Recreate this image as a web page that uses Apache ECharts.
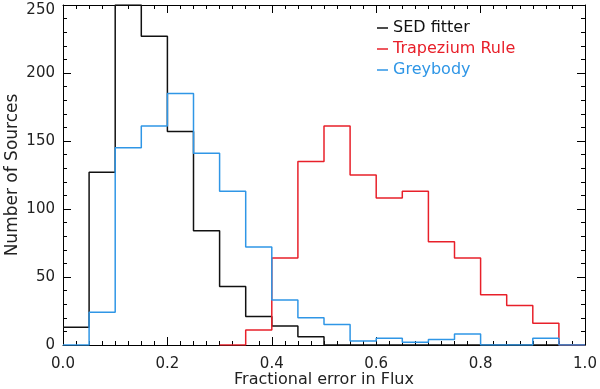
<!DOCTYPE html>
<html>
<head>
<meta charset="utf-8">
<title>Fractional error histogram</title>
<script src="https://cdn.jsdelivr.net/npm/echarts@6/dist/echarts.min.js"></script>
<style>
    html, body { margin: 0; padding: 0; background: #fff; }
    #hist { width: 600px; height: 389px; }
</style>
</head>
<body>
<div id="hist"></div>
<script>
// histogram bins (left edges), width 0.05
var binEdges = [0.00, 0.05, 0.10, 0.15, 0.20, 0.25, 0.30, 0.35, 0.40, 0.45,
                0.50, 0.55, 0.60, 0.65, 0.70, 0.75, 0.80, 0.85, 0.90, 0.95];
var binWidth = 0.05;

// counts per bin, null = not drawn
var sedFitter = [13, 127, 250, 227, 157, 84, 43, 21, 14, 6,
                 0, 0, 0, 0, 0, 0, 0, 0, 0, 0];
var trapezium = [null, null, null, null, null, null, 0, 11, 64, 135,
                 161, 125, 108, 113, 76, 64, 37, 29, 16, 0];
var greybody  = [0, 24, 145, 161, 185, 141, 113, 72, 33, 20,
                 15, 3, 5, 2, 4, 8, 0, 0, 5, 0];

var xTicks = [0.0, 0.2, 0.4, 0.6, 0.8, 1.0];
var yTicks = [0, 50, 100, 150, 200, 250];

// turn bin counts into step outline points
function steps(vals) {
    var pts = [];
    vals.forEach(function (v, i) {
        if (v === null) return;
        pts.push([binEdges[i], v]);
        pts.push([binEdges[i] + binWidth, v]);
    });
    return pts;
}

var font = 'DejaVu Sans';
var txt = '#222';
var chart = echarts.init(document.getElementById('hist'));

var line = { show: true, onZero: false, lineStyle: { color: '#000', width: 1 } };
var tick = { show: true, inside: true, length: 8, lineStyle: { color: '#000', width: 1 } };
function minor(n) {
    return { show: true, splitNumber: n, length: 4, lineStyle: { color: '#000', width: 1 } };
}

chart.setOption({
    animation: false,
    backgroundColor: '#fff',
    grid: { left: 63, right: 15, top: 5, bottom: 44, containLabel: false, outerBoundsMode: 'none' },
    legend: {
        orient: 'vertical',
        left: 377, top: 20,
        padding: 0,
        itemGap: 5,
        itemWidth: 11, itemHeight: 1.5,
        icon: 'rect',
        textStyle: { fontFamily: font, fontSize: 16 },
        data: [
            { name: 'SED fitter', textStyle: { color: '#111' } },
            { name: 'Trapezium Rule', textStyle: { color: '#e8202a' } },
            { name: 'Greybody', textStyle: { color: '#2f96e6' } }
        ]
    },
    xAxis: [
        {
            type: 'value', min: 0, max: 1.0, interval: 0.2,
            name: 'Fractional error in Flux',
            nameLocation: 'middle', nameGap: 27, nameMoveOverlap: false,
            nameTextStyle: { fontFamily: font, fontSize: 16, color: txt },
            axisLine: line, axisTick: tick, minorTick: minor(8),
            splitLine: { show: false },
            axisLabel: {
                fontFamily: font, fontSize: 15, color: txt, margin: 12,
                formatter: function (v) { return v.toFixed(1); }
            }
        },
        {
            type: 'value', min: 0, max: 1.0, interval: 0.2, position: 'top',
            axisLine: line, axisTick: tick, minorTick: minor(8),
            splitLine: { show: false },
            axisLabel: { show: false }
        }
    ],
    yAxis: [
        {
            type: 'value', min: 0, max: 250, interval: 50,
            name: 'Number of Sources',
            nameLocation: 'middle', nameGap: 42, nameMoveOverlap: false,
            nameTextStyle: { fontFamily: font, fontSize: 17, color: txt },
            axisLine: line, axisTick: tick, minorTick: minor(5),
            splitLine: { show: false },
            axisLabel: {
                fontFamily: font, fontSize: 15, color: txt, margin: 8,
                formatter: function (v) {
                    return v === yTicks[yTicks.length - 1] ? '{top|' + v + '}' : String(v);
                },
                rich: {
                    top: { fontFamily: font, fontSize: 15, color: txt, padding: [11, 0, 0, 0] }
                }
            }
        },
        {
            type: 'value', min: 0, max: 250, interval: 50, position: 'right',
            axisLine: line, axisTick: tick, minorTick: minor(5),
            splitLine: { show: false },
            axisLabel: { show: false }
        }
    ],
    series: [
        {
            name: 'SED fitter', type: 'line', showSymbol: false,
            lineStyle: { color: '#111', width: 1.5 }, itemStyle: { color: '#111' },
            data: steps(sedFitter)
        },
        {
            name: 'Trapezium Rule', type: 'line', showSymbol: false,
            lineStyle: { color: '#e8202a', width: 1.5 }, itemStyle: { color: '#e8202a' },
            data: steps(trapezium)
        },
        {
            name: 'Greybody', type: 'line', showSymbol: false,
            lineStyle: { color: '#2f96e6', width: 1.5 }, itemStyle: { color: '#2f96e6' },
            data: steps(greybody)
        }
    ]
});
</script>
</body>
</html>
